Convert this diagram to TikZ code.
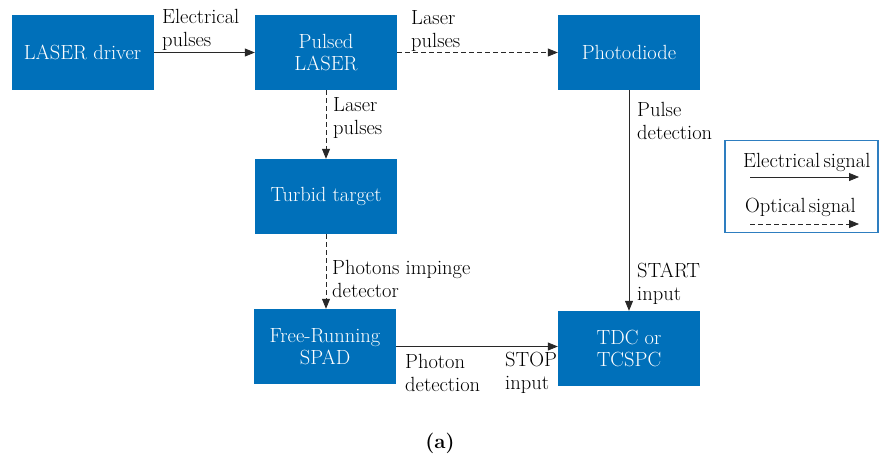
\documentclass[tikz,border=0pt]{standalone}
\usepackage{fontspec}
\usetikzlibrary{arrows.meta}
\definecolor{boxblue}{RGB}{0,112,186}
\definecolor{legblue}{RGB}{46,126,192}
\definecolor{linegray}{RGB}{40,40,40}
\begin{document}
\begin{tikzpicture}[x=1pt,y=-1pt,
  blk/.style={fill=boxblue,draw=none,text=white,minimum width=142pt,minimum height=75pt,inner sep=0pt,align=center,font=\fontsize{20.5}{21.5}\selectfont},
  lbl/.style={anchor=west,align=left,inner sep=0pt,font=\fontsize{20.5}{23}\selectfont},
  sig/.style={draw=linegray,line width=0.8pt,-{Triangle[length=10pt,width=8pt]}},
  opt/.style={sig,dash pattern=on 5pt off 3pt}]
\useasboundingbox (0,0) rectangle (880,459);
\node[blk] (drv) at (82.5,52.5) {LASER driver};
\node[blk] (pl) at (326,52.5) {Pulsed\\LASER};
\node[blk] (pd) at (629,52.5) {Photodiode};
\node[blk] (tt) at (326,196.5) {Turbid target};
\node[blk] (spad) at (325,346.5) {Free-Running\\SPAD};
\node[blk] (tdc) at (629,348.5) {TDC or\\TCSPC};
\draw[sig] (drv.east) -- (pl.west);
\draw[opt] (pl.east) -- (pd.west);
\draw[opt] (pl.south) -- (tt.north);
\draw[opt] (tt.south) -- (tt.south |- spad.north);
\draw[sig] (pd.south) -- (tdc.north);
\draw[sig] (spad.east) -- (spad.east -| tdc.west);
\node[lbl] (l1) at (162,30) {Electrical\\pulses};
\node[lbl] (l2) at (411,31) {Laser\\pulses};
\node[lbl] (l3) at (333,118) {Laser\\pulses};
\node[lbl] (l4) at (332,279) {Photons impinge\\detector};
\node[lbl] (l5) at (637,121) {Pulse\\detection};
\node[lbl] (l6) at (637,284) {START\\input};
\node[lbl] (l7) at (405,373) {Photon\\detection};
\node[lbl] (l8) at (505,373) {STOP\\input};
\node[draw=legblue,line width=1.2pt,minimum width=153pt,minimum height=92pt,inner sep=0pt] (leg) at (801.5,186.5) {};
\node[lbl] (le) at (743,162) {Electrical\kern-3pt\ signal};
\node[lbl] (lo) at (745,207) {Optical\kern-3pt\ signal};
\coordinate (ea) at (750,177);
\coordinate (eb) at (859,177);
\coordinate (oa) at (750,224);
\coordinate (ob) at (859,224);
\draw[sig] (ea) -- (eb);
\draw[opt] (oa) -- (ob);
\node[inner sep=0pt,font=\fontsize{20.5}{22}\selectfont] (cap) at (440,443) {\textbf{(a)}};
\end{tikzpicture}
\end{document}
